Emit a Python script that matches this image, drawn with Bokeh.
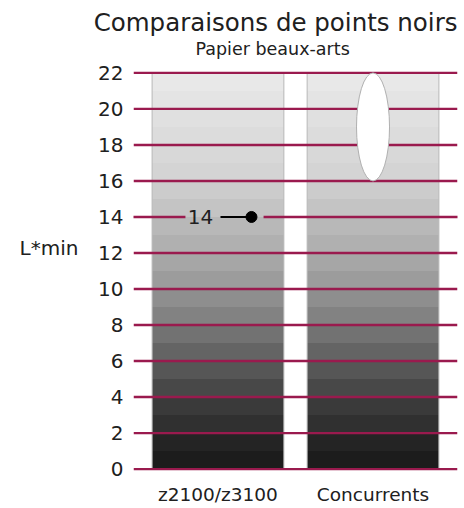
from bokeh.plotting import figure
from bokeh.models import FactorRange, Span, ColumnDataSource, FixedTicker, Title
from bokeh.core.properties import value
from bokeh.embed import file_html
from bokeh.resources import INLINE

# ---- data ----
categories = ["z2100/z3100", "Concurrents"]
z_value = 14                      # L*min of z2100/z3100
rival_low, rival_high = 16, 22    # L*min range of competitors
y_ticks = [0, 2, 4, 6, 8, 10, 12, 14, 16, 18, 20, 22]
band_grays = [28, 36, 48, 58, 72, 86, 100, 114, 130, 142, 156, 166,
              176, 184, 196, 204, 212, 216, 220, 224, 228, 232]

FONT = "DejaVu Sans"
TXT = "#202020"
LINE = "#9a1a4e"

p = figure(width=464, height=508, output_backend="svg", toolbar_location=None,
           x_range=FactorRange(factors=categories, range_padding=0.045),
           y_range=(-0.3, 22.3), title=None,
           min_border_left=133, min_border_right=7, min_border_top=67, min_border_bottom=34,
           outline_line_color=None, background_fill_color="white", border_fill_color="white")
p.xgrid.visible = False
p.ygrid.visible = False

# gradient bars
bx, bb, bt, bc = [], [], [], []
for c in categories:
    for i, g in enumerate(band_grays):
        bx.append(c); bb.append(i); bt.append(i + 1)
        bc.append("#%02x%02x%02x" % (g, g, g))
p.vbar(x="x", bottom="b", top="t", width=0.85, fill_color="c", line_color=None,
       source=ColumnDataSource(dict(x=bx, b=bb, t=bt, c=bc)))
p.vbar(x=categories, bottom=0, top=22, width=0.85, fill_color=None,
       line_color="#b8b8b8", line_width=1)

# horizontal rules
for t in y_ticks:
    if t == z_value:
        continue
    p.add_layout(Span(location=t, dimension="width", line_color=LINE,
                      line_width=2.4, level="guide"))
seg = p.segment(x0=[-0.045, (categories[0], 0.294)], x1=[(categories[0], -0.21), 2.045],
                y0=[z_value, z_value], y1=[z_value, z_value],
                line_color=LINE, line_width=2.4)
seg.level = "guide"

# competitor range ellipse
el = p.ellipse(x=[categories[1]], y=[(rival_low + rival_high) / 2], width=0.213,
               height=rival_high - rival_low, fill_color="white",
               line_color="#b0b0b0", line_width=1)
el.level = "annotation"

# z2100 marker
ln = p.segment(x0=[(categories[0], 0.016)], x1=[(categories[0], 0.216)],
               y0=[z_value], y1=[z_value], line_color="black", line_width=2)
ln.level = "annotation"
dot = p.scatter(x=[(categories[0], 0.216)], y=[z_value], size=11,
                fill_color="black", line_color="black")
dot.level = "annotation"
tx = p.text(x=[(categories[0], -0.113)], y=[z_value], text=[str(z_value)],
            text_font=value(FONT), text_font_size="20px", text_color=TXT,
            text_align="center", text_baseline="middle")
tx.level = "annotation"

# axes
p.yaxis.ticker = FixedTicker(ticks=y_ticks)
p.yaxis.axis_line_color = None
p.yaxis.major_tick_line_color = None
p.yaxis.minor_tick_line_color = None
p.yaxis.major_label_standoff = 4
p.yaxis.major_label_text_font = FONT
p.yaxis.major_label_text_font_size = "20px"
p.yaxis.major_label_text_color = TXT

p.xaxis.axis_line_color = None
p.xaxis.major_tick_line_color = None
p.xaxis.major_label_standoff = 3
p.xaxis.major_label_text_font = FONT
p.xaxis.major_label_text_font_size = "18.5px"
p.xaxis.major_label_text_color = TXT

# titles
p.add_layout(Title(text="Papier beaux-arts", align="left", offset=62,
                   text_font=FONT, text_font_size="17.5px", text_font_style="normal",
                   text_color=TXT, standoff=17), "above")
p.add_layout(Title(text="Comparaisons de points noirs", align="right", offset=0,
                   text_font=FONT, text_font_size="24.5px", text_font_style="normal",
                   text_color=TXT, standoff=-17), "above")

# axis label
lab = p.text(x=[-0.59], y=[12.28], text=["L*min"], text_font=value(FONT),
             text_font_size="20px", text_color=TXT,
             text_align="center", text_baseline="middle")
lab.level = "annotation"

open("out.html", "w").write(file_html(p, INLINE))
